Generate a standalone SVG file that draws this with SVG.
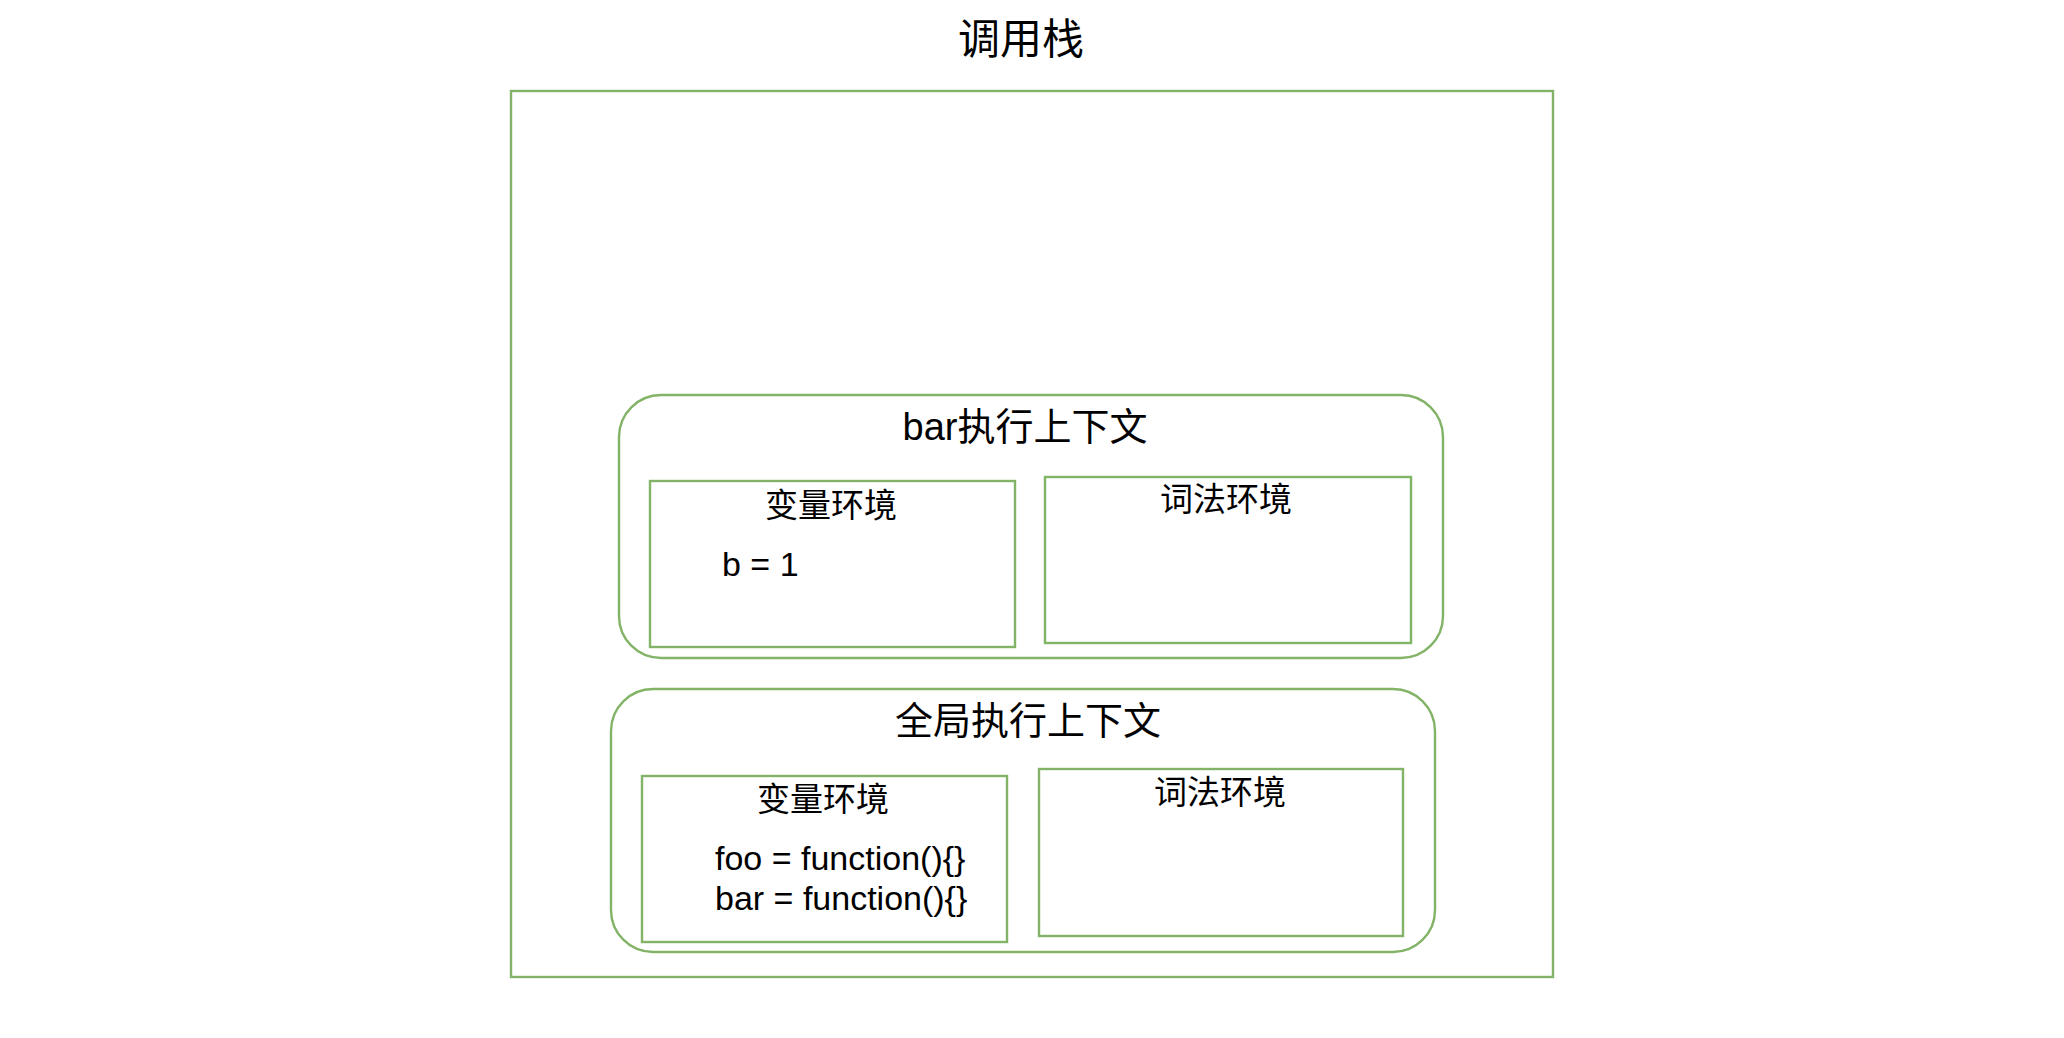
<svg xmlns="http://www.w3.org/2000/svg" width="2064" height="1038" viewBox="0 0 2064 1038">
<style>
.box{fill:#ffffff;stroke:#82b366;stroke-width:2.4}
.t{font-family:"Liberation Sans","Noto Sans CJK SC",sans-serif;fill:#000000}
.c{text-anchor:middle;dominant-baseline:central}
.h1{font-size:42px}
.h2{font-size:38px}
.h3{font-size:33px}
.code{font-size:34px}
</style>
<rect width="2064" height="1038" fill="#ffffff"/>
<g id="title"><text class="t c h1" x="1021" y="39">调用栈</text></g>
<g id="call-stack"><rect class="box" x="511" y="91" width="1042" height="886"/></g>
<g id="bar-context">
<rect class="box" x="619" y="395" width="824" height="263" rx="42" ry="42"/>
<text class="t c h2" x="1025" y="427">bar执行上下文</text>
</g>
<g id="bar-variable-env">
<rect class="box" x="650" y="481" width="365" height="166"/>
<text class="t c h3" x="831" y="505">变量环境</text>
<text class="t code" x="722" y="576">b = 1</text>
</g>
<g id="bar-lexical-env">
<rect class="box" x="1045" y="477" width="366" height="166"/>
<text class="t c h3" x="1226" y="499">词法环境</text>
</g>
<g id="global-context">
<rect class="box" x="611" y="689" width="824" height="263" rx="42" ry="42"/>
<text class="t c h2" x="1028" y="721">全局执行上下文</text>
</g>
<g id="global-variable-env">
<rect class="box" x="642" y="776" width="365" height="166"/>
<text class="t c h3" x="823" y="799">变量环境</text>
<text class="t code" x="715" y="870">foo = function(){}</text>
<text class="t code" x="715" y="910">bar = function(){}</text>
</g>
<g id="global-lexical-env">
<rect class="box" x="1039" y="769" width="364" height="167"/>
<text class="t c h3" x="1220" y="792">词法环境</text>
</g>
<g id="connectors"></g>
</svg>
